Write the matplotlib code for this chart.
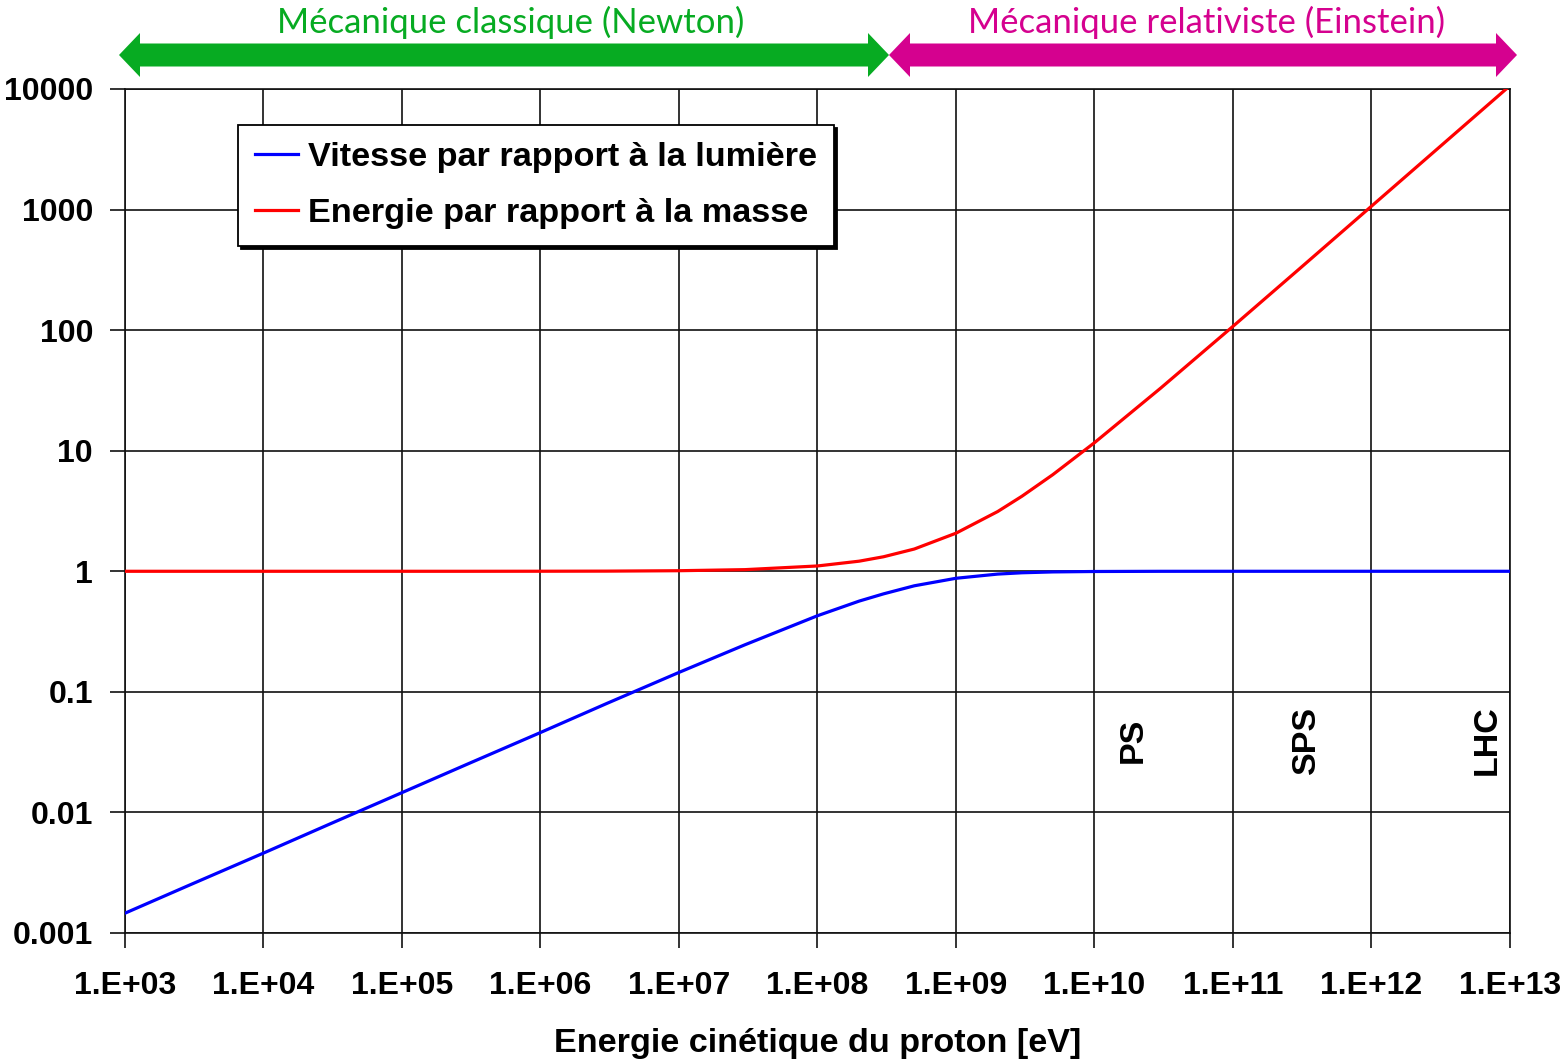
import matplotlib
matplotlib.use("Agg")
import matplotlib.pyplot as plt
from matplotlib.patches import Polygon

# ---- data ----
energy_eV = [1e3, 3e3, 1e4, 3e4, 1e5, 3e5, 1e6, 3e6, 1e7, 3e7, 1e8, 2e8, 3e8, 5e8,
             1e9, 2e9, 3e9, 5e9, 1e10, 3e10, 1e11, 3e11, 1e12, 3e12, 1e13]
vitesse = [0.00146, 0.00253, 0.0046, 0.008, 0.0146, 0.0253, 0.046, 0.080, 0.145, 0.246,
           0.428, 0.566, 0.65, 0.758, 0.875, 0.948, 0.972, 0.988, 0.996, 0.9996,
           1.0, 1.0, 1.0, 1.0, 1.0]
energie = [1.0, 1.0, 1.0, 1.0, 1.0, 1.0, 1.001, 1.003, 1.011, 1.032, 1.107, 1.213,
           1.32, 1.53, 2.07, 3.13, 4.2, 6.33, 11.66, 33.0, 107.6, 320.7, 1067, 3198, 10659]

xticks = [1e3, 1e4, 1e5, 1e6, 1e7, 1e8, 1e9, 1e10, 1e11, 1e12, 1e13]
xticklabels = ["1.E+03", "1.E+04", "1.E+05", "1.E+06", "1.E+07", "1.E+08",
               "1.E+09", "1.E+10", "1.E+11", "1.E+12", "1.E+13"]
yticks = [0.001, 0.01, 0.1, 1, 10, 100, 1000, 10000]
yticklabels = ["0.001", "0.01", "0.1", "1", "10", "100", "1000", "10000"]

accel_names = ["PS", "SPS", "LHC"]
accel_x = [1.9e10, 3.4e11, 6.8e12]
accel_y = [0.04, 0.04, 0.04]

series_labels = ["Vitesse par rapport à la lumière", "Energie par rapport à la masse"]
regimes = ["Mécanique classique (Newton)", "Mécanique relativiste (Einstein)"]

W, H = 1567, 1059
BOLD = "Liberation Sans"
fig = plt.figure(figsize=(W / 100, H / 100), dpi=100)
ax = fig.add_axes([125 / W, 1 - 933 / H, 1385 / W, 844 / H])

ax.plot(energy_eV, vitesse, color="#0000FF", lw=2.3, label=series_labels[0], zorder=3)
ax.plot(energy_eV, energie, color="#FF0000", lw=2.3, label=series_labels[1], zorder=3)

ax.set_xscale("log")
ax.set_yscale("log")
ax.set_xlim(1e3, 1e13)
ax.set_ylim(1e-3, 1e4)
ax.set_xticks(xticks)
ax.set_xticklabels(xticklabels)
ax.set_yticks(yticks)
ax.set_yticklabels(yticklabels)
ax.minorticks_off()
ax.grid(True, color="#111111", lw=1.2)
ax.set_axisbelow(True)
for s in ax.spines.values():
    s.set_color("#111111")
    s.set_linewidth(1.2)
ax.tick_params(axis="x", direction="out", length=11, width=1.2, color="#111111", pad=16)
ax.tick_params(axis="y", direction="out", length=11, width=1.2, color="#111111", pad=12)
for lab in ax.get_xticklabels() + ax.get_yticklabels():
    lab.set_fontfamily(BOLD)
    lab.set_fontweight("bold")
    lab.set_fontsize(23)
ax.set_xlabel("Energie cinétique du proton [eV]", fontfamily=BOLD, fontweight="bold",
              fontsize=24.6, labelpad=20)

for name, x, y in zip(accel_names, accel_x, accel_y):
    ax.text(x, y, name, rotation=90, ha="center", va="center", fontfamily=BOLD,
            fontweight="bold", fontsize=24.5)

leg = ax.legend(loc="upper left", bbox_to_anchor=((238 - 125) / 1385, (933 - 125) / 844),
                frameon=True, fancybox=False, shadow={"color": "black", "alpha": 1.0},
                edgecolor="black", framealpha=1, handlelength=1.26, handletextpad=0.28,
                borderpad=0.5, labelspacing=0.72, borderaxespad=0,
                prop={"family": BOLD, "weight": "bold", "size": 24.7})
leg.get_frame().set_linewidth(1.3)


def double_arrow(x0, x1, yc, shaft, head, hlen, color):
    pts = [(x0, yc), (x0 + hlen, yc - head / 2), (x0 + hlen, yc - shaft / 2),
           (x1 - hlen, yc - shaft / 2), (x1 - hlen, yc - head / 2), (x1, yc),
           (x1 - hlen, yc + head / 2), (x1 - hlen, yc + shaft / 2),
           (x0 + hlen, yc + shaft / 2), (x0 + hlen, yc + head / 2)]
    pts = [(px / W, 1 - py / H) for px, py in pts]
    fig.patches.append(Polygon(pts, closed=True, transform=fig.transFigure,
                               facecolor=color, edgecolor="none"))


green = "#07AB22"
magenta = "#D5018F"
double_arrow(119, 889, 55, 23, 44, 21, green)
double_arrow(889, 1517, 55, 23, 44, 21, magenta)
fig.text(511 / W, 1 - 22 / H, regimes[0], ha="center", va="center", color=green,
         fontfamily="Lato", fontsize=25)
fig.text(1207 / W, 1 - 22 / H, regimes[1], ha="center", va="center", color=magenta,
         fontfamily="Lato", fontsize=25)

fig.savefig("out.png", dpi=100)
